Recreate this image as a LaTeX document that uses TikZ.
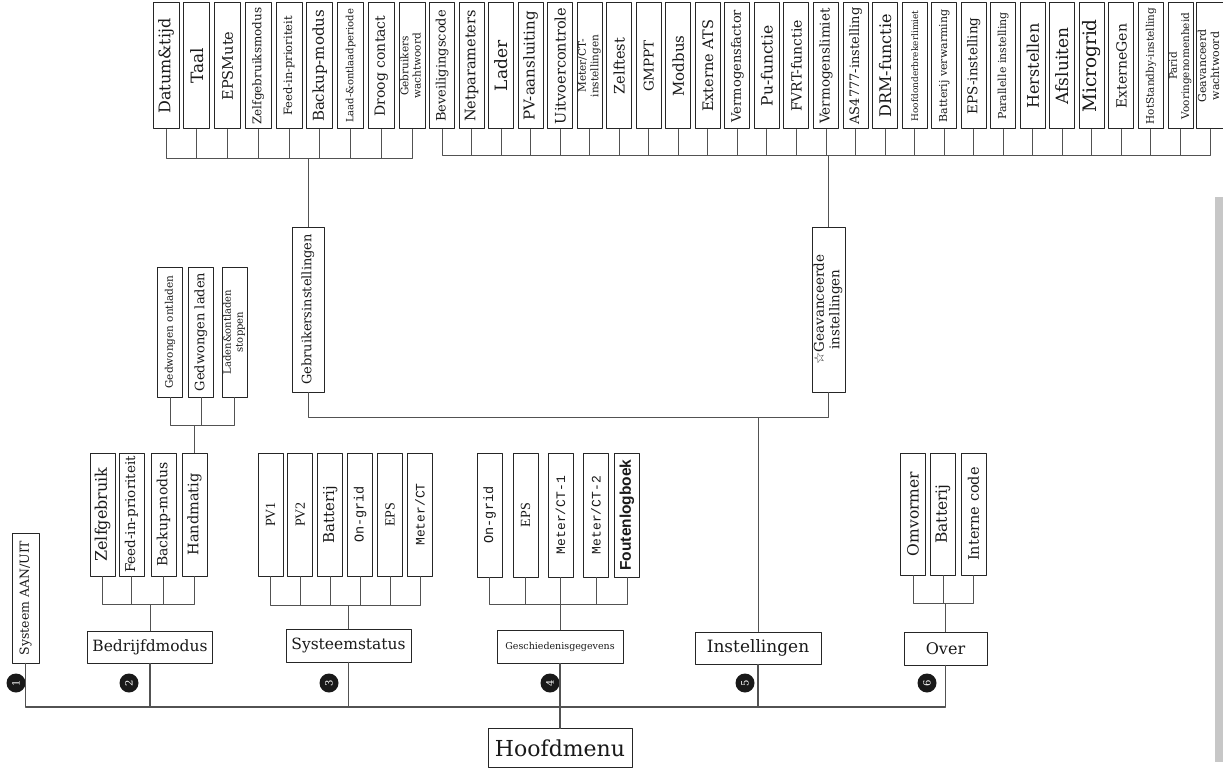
\documentclass[tikz,border=0pt]{standalone}
\usepackage{graphicx}
\usepackage{fontspec}
\setmainfont{DejaVu Serif}
\setsansfont{Liberation Sans}
\setmonofont{Liberation Mono}
\newfontfamily\thinserif{Liberation Serif}
\newfontfamily\starfont{DejaVu Sans}
\newcommand{\vtext}[1]{\rotatebox{90}{#1}}
\newcommand{\twol}[2]{{\def\arraystretch{0.95}\begin{tabular}{@{}c@{}}#1\\#2\end{tabular}}}

\begin{document}
\begin{tikzpicture}[x=1pt, y=-1pt, line cap=round, line join=round,
  box/.style={draw=black!85, line width=1pt, inner sep=0pt, fill=white, text=black!90},
  vbox/.style={box, minimum width=25pt, minimum height=126pt},
  hbox/.style={box, minimum height=33pt},
  wire/.style={draw=black!68, line width=1pt},
  num/.style={circle, fill=black!90, text=white, inner sep=0pt, minimum size=19pt, font=\fontsize{10}{10}\selectfont}]

% frame
\useasboundingbox (0,0) rectangle (1223,770);

% root
\node[hbox, minimum width=144pt, minimum height=39pt, font=\fontsize{22}{24}\selectfont] (hoofd) at (560,748) {Hoofdmenu};

% first level
\node[box, minimum width=27pt, minimum height=130pt, font=\fontsize{12.5}{13}\selectfont] (sys) at (25.5,598) {\vtext{Systeem AAN/UIT}};
\node[hbox, minimum width=125pt, minimum height=32pt, font=\fontsize{15.5}{17}\selectfont] (bedr) at (150,647) {Bedrijfdmodus};
\node[hbox, minimum width=125pt, font=\fontsize{15.5}{17}\selectfont] (stat) at (348.5,645.5) {Systeemstatus};
\node[hbox, minimum width=126pt, font=\fontsize{9.5}{11}\selectfont] (hist) at (560,646.5) {Geschiedenisgegevens};
\node[hbox, minimum width=126pt, minimum height=32pt, font=\fontsize{17}{19}\selectfont] (inst) at (758,648) {Instellingen};
\node[hbox, minimum width=83pt, font=\fontsize{16}{18}\selectfont] (over) at (945.5,648.5) {Over};

% numbers
\foreach \n/\x in {1/16, 2/129, 3/329, 4/550, 5/745, 6/927}
  \node[num] (c\n) at (\x,683) {\vtext{\n}};

% main bus
\coordinate (mbus) at (560,707);
\foreach \n in {sys,bedr,stat,hist,inst,over}
  \draw[wire, line width=1.3pt] (\n.south) |- (mbus) -- (hoofd.north);

% operating modes
\foreach \lbl/\fs/\x [count=\i] in {Zelfgebruik/16/102.5, Feed-in-prioriteit/13.5/131.5, Backup-modus/14/163.5, Handmatig/14.5/194.5}
  \node[vbox, minimum height=123pt, font=\fontsize{\fs}{\fs}\selectfont] (m\i) at (\x,514.5) {\vtext{\lbl}};
\coordinate (modebus) at (150,604);
\foreach \i in {1,...,4} \draw[wire] (m\i.south) |- (modebus) -- (bedr.north);

% manual sub-menu
\foreach \lbl/\fs/\x [count=\i] in {Gedwongen ontladen/10.5/170, Gedwongen laden/13/201, {\twol{Laden\&ontladen}{stoppen}}/10/234.5}{
  \pgfmathsetmacro\ls{1.25*\fs}
  \node[vbox, minimum height=130pt, font=\fontsize{\fs}{\ls}\selectfont] (h\i) at (\x,332) {\vtext{\lbl}};
}
\coordinate (hbus) at (194.5,425);
\foreach \i in {1,2,3} \draw[wire] (h\i.south) |- (hbus) -- (m4.north);

% system status
\foreach \lbl/\fs [count=\i] in {{\thinserif PV1}/14, {\thinserif PV2}/14, Batterij/15, {\ttfamily On-grid}/13.5, {\thinserif EPS}/14, {\ttfamily Meter/CT}/13}
  \node[vbox, minimum height=123pt, font=\fontsize{\fs}{\fs}\selectfont] (s\i) at ({240.6+29.9*\i},514.5) {\vtext{\lbl}};
\coordinate (statbus) at (348.5,605);
\foreach \i in {1,...,6} \draw[wire] (s\i.south) |- (statbus) -- (stat.north);

% history
\foreach \lbl/\fs/\x [count=\i] in {{\ttfamily On-grid}/13.5/489.5, {\thinserif EPS}/14/525.5, {\ttfamily Meter/CT-1}/13/560.5, {\ttfamily Meter/CT-2}/13/596, {\sffamily\bfseries Foutenlogboek}/15.5/627}
  \node[vbox, minimum height=124pt, font=\fontsize{\fs}{\fs}\selectfont] (g\i) at (\x,515) {\vtext{\lbl}};
\coordinate (histbus) at (560,604);
\foreach \i in {1,...,5} \draw[wire] (g\i.south) |- (histbus) -- (hist.north);

% about
\foreach \lbl/\fs/\x [count=\i] in {Omvormer/15.5/913, Batterij/15.5/943, Interne code/14.5/973.5}
  \node[vbox, minimum height=122pt, font=\fontsize{\fs}{\fs}\selectfont] (o\i) at (\x,514) {\vtext{\lbl}};
\coordinate (overbus) at (945.5,603);
\foreach \i in {1,2,3} \draw[wire] (o\i.south) |- (overbus) -- (over.north);

% settings
\node[box, minimum width=32pt, minimum height=165pt, font=\fontsize{13}{15}\selectfont] (gebr) at (308,309.5) {\vtext{Gebruikersinstellingen}};
\node[box, minimum width=33pt, minimum height=165pt, font=\fontsize{13.5}{16.5}\selectfont] (gev) at (828.5,309.5) {\vtext{\twol{{\starfont ☆}Geavanceerde}{instellingen}}};
\coordinate (setbus) at (758,417);
\draw[wire] (gebr.south) |- (setbus) -- (inst.north);
\draw[wire] (gev.south) |- (setbus);

% user settings
\foreach \lbl/\fs [count=\i] in {Datum\&tijd/16, Taal/17, EPSMute/14.5, Zelfgebruiksmodus/12, Feed-in-prioriteit/11.5, Backup-modus/15, Laad-\&ontlaadperiode/10, Droog contact/14, {\twol{Gebruikers}{wachtwoord}}/10.5}{
  \pgfmathsetmacro\ls{1.25*\fs}
  \node[vbox, minimum width=26pt, font=\fontsize{\fs}{\ls}\selectfont] (u\i) at ({135.25+30.75*\i},66) {\vtext{\lbl}};
}
\coordinate (userbus) at (308,159);
\foreach \i in {1,...,9} \draw[wire] (u\i.south) |- (userbus) -- (gebr.north);

% advanced settings
\foreach \lbl/\fs [count=\i] in {Beveiligingscode/13, Netparameters/14.5, Lader/17, PV-aansluiting/15, Uitvoercontrole/14.5, {\twol{Meter/CT-}{instellingen}}/10.5, Zelftest/14.5, GMPPT/13.5, Modbus/15, Externe ATS/14.5, Vermogensfactor/13, Pu-functie/15.5, FVRT-functie/14, Vermogenslimiet/13.5, AS4777-instelling/13, DRM-functie/16, Hoofdonderbrekerlimiet/9, Batterij verwarming/11, EPS-instelling/13.5, Parallelle instelling/11, Herstellen/16, Afsluiten/17, Microgrid/18.5, ExterneGen/14, HotStandby-instelling/10.5, {\twol{Parid}{Vooringenomenheid}}/10.5, {\twol{Geavanceerd}{wachtwoord}}/11}{
  \pgfmathsetmacro\ls{1.25*\fs}
  \node[vbox, font=\fontsize{\fs}{\ls}\selectfont] (a\i) at ({412.46+29.54*\i},66) {\vtext{\lbl}};
}
\coordinate (advbus) at (828.5,156);
\foreach \i in {1,...,27} \draw[wire] (a\i.south) |- (advbus) -- (gev.north);

% margin strip
\fill[black!22] (1215,197) rectangle (1223,762);

\end{tikzpicture}
\end{document}
